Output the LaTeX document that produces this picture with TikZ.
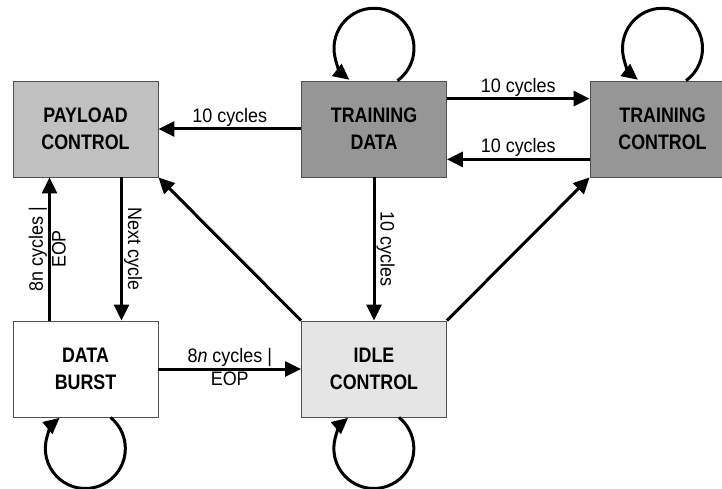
\documentclass[tikz,border=0pt]{standalone}
\usepackage{fontspec}
\setmainfont{Liberation Sans}[FakeStretch=0.85]
\newfontfamily\lblfont{Liberation Sans}[FakeStretch=0.92]
\usetikzlibrary{arrows.meta}
\definecolor{payloadgray}{RGB}{192,192,192}
\definecolor{traingray}{RGB}{150,150,150}
\definecolor{idlegray}{RGB}{229,229,229}
\definecolor{edgegray}{RGB}{80,80,80}

\begin{document}
\begin{tikzpicture}[x=1pt, y=-1pt, >={Triangle[length=16pt, width=15pt]},
  state/.style={rectangle, draw=edgegray, line width=0.8pt, minimum width=145pt, minimum height=96pt, align=center, font=\bfseries\fontsize{21}{27}\selectfont},
  trans/.style={->, line width=3pt},
  lbl/.style={font=\lblfont\fontsize{19.5}{23}\selectfont, inner sep=1pt}]
  \useasboundingbox (0,0) rectangle (722,489);
  \clip (0,0) rectangle (722,489);
  \node[state, fill=payloadgray] (pc) at (85.5,129) {PAYLOAD\\CONTROL};
  \node[state, fill=traingray] (td) at (374,129) {TRAINING\\DATA};
  \node[state, fill=traingray] (tc) at (662.5,129) {TRAINING\\CONTROL};
  \node[state, fill=white] (db) at (85.5,369) {DATA\\BURST};
  \node[state, fill=idlegray] (ic) at (374,369) {IDLE\\CONTROL};
  \draw[trans] (td.west) -- node[lbl, above] {10 cycles} (pc.east);
  \draw[trans] ([yshift=-18pt]td.north east) -- node[lbl, above] {10 cycles} ([yshift=-18pt]tc.north west);
  \draw[trans] ([yshift=18pt]tc.south west) -- node[lbl, above] {10 cycles} ([yshift=18pt]td.south east);
  \draw[trans] ([xshift=36pt]pc.south) -- node[lbl, rotate=-90, anchor=south] {Next cycle} ([xshift=36pt]db.north);
  \draw[trans] ([xshift=-36pt]db.north) -- node[lbl, rotate=90, anchor=south] {8n cycles |} node[lbl, rotate=90, anchor=north] {EOP} ([xshift=-36pt]pc.south);
  \draw[trans] (td.south) -- node[lbl, rotate=-90, anchor=south] {10 cycles} (ic.north);
  \draw[trans] (db.east) -- node[lbl, above] {8\textit{n} cycles |} node[lbl, below] {EOP} (ic.west);
  \draw[trans] (ic.north west) -- (pc.south east);
  \draw[trans] (ic.north east) -- (tc.south west);
  % self loops
  \draw[trans] ([xshift=23.5pt]td.north) arc[start angle=-54, end angle=232, radius=40pt];
  \draw[trans] ([xshift=23.5pt]tc.north) arc[start angle=-54, end angle=232, radius=40pt];
  \draw[trans] ([xshift=25pt]db.south) arc[start angle=51, end angle=-230, radius=40pt];
  \draw[trans] ([xshift=25pt]ic.south) arc[start angle=51, end angle=-230, radius=40pt];
\end{tikzpicture}
\end{document}
